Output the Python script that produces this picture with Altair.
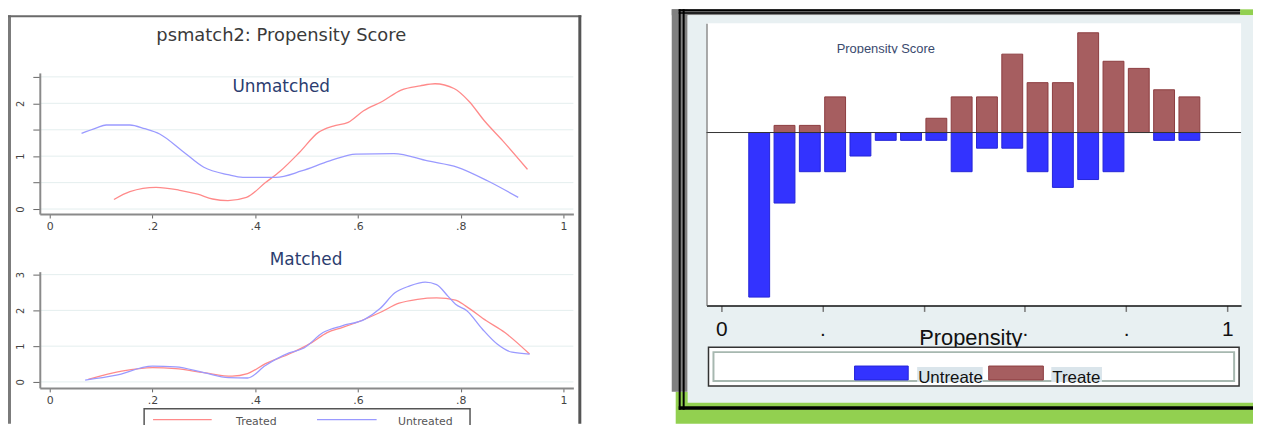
import altair as alt
import pandas as pd

# ---------------- data ----------------
# Left panel, "Unmatched" kernel densities
um_treat_x = [0.125, 0.156, 0.207, 0.251, 0.288, 0.317, 0.347, 0.383, 0.42, 0.449, 0.486, 0.523,
              0.552, 0.581, 0.611, 0.648, 0.684, 0.721, 0.75, 0.787, 0.816, 0.846, 0.882, 0.93]
um_treat_y = [0.18, 0.33, 0.41, 0.36, 0.28, 0.19, 0.16, 0.22, 0.50, 0.72, 1.07, 1.45,
              1.57, 1.64, 1.86, 2.04, 2.25, 2.33, 2.37, 2.28, 2.04, 1.67, 1.29, 0.75]
um_untr_x = [0.062, 0.09, 0.11, 0.156, 0.185, 0.214, 0.258, 0.30, 0.347, 0.376, 0.44, 0.49,
             0.545, 0.596, 0.67, 0.736, 0.794, 0.853, 0.912]
um_untr_y = [1.43, 1.53, 1.59, 1.59, 1.52, 1.42, 1.10, 0.79, 0.65, 0.60, 0.60, 0.72,
             0.91, 1.04, 1.05, 0.91, 0.79, 0.53, 0.22]
# Left panel, "Matched" kernel densities
m_treat_x = [0.075, 0.14, 0.20, 0.245, 0.30, 0.355, 0.385, 0.42, 0.466, 0.51, 0.54, 0.569,
             0.606, 0.643, 0.68, 0.716, 0.753, 0.79, 0.81, 0.85, 0.886, 0.934]
m_treat_y = [0.07, 0.30, 0.40, 0.37, 0.26, 0.16, 0.23, 0.51, 0.78, 1.10, 1.38, 1.52,
             1.71, 1.94, 2.20, 2.31, 2.35, 2.29, 2.12, 1.71, 1.38, 0.78]
m_untr_x = [0.069, 0.127, 0.20, 0.245, 0.30, 0.348, 0.385, 0.42, 0.466, 0.495, 0.532, 0.569,
            0.613, 0.643, 0.672, 0.70, 0.731, 0.753, 0.775, 0.79, 0.812, 0.842, 0.871, 0.90, 0.934]
m_untr_y = [0.05, 0.18, 0.44, 0.42, 0.26, 0.12, 0.11, 0.46, 0.81, 0.95, 1.38, 1.57,
            1.75, 2.05, 2.49, 2.68, 2.79, 2.72, 2.40, 2.17, 1.99, 1.48, 1.06, 0.83, 0.78]

# Right panel, mirrored histogram (bin midpoints and counts)
bin_mid = [0.075, 0.125, 0.175, 0.225, 0.275, 0.325, 0.375, 0.425, 0.475,
           0.525, 0.575, 0.625, 0.675, 0.725, 0.775, 0.825, 0.875, 0.925]
treated_n = [0, 1, 1, 5, 0, 0, 0, 2, 5, 5, 11, 7, 7, 14, 10, 9, 6, 5]
untreated_n = [21, 9, 5, 5, 3, 1, 1, 1, 5, 2, 2, 5, 7, 6, 5, 0, 1, 1]

ps_ticks = [0, 0.2, 0.4, 0.6, 0.8, 1]
top_ticks = [0, 0.5, 1, 1.5, 2, 2.5]
bot_ticks = [0, 1, 2, 3]

# ---------------- styling helpers ----------------
ONE = pd.DataFrame({"k": [0]})
LEFT_FONT = "DejaVu Sans"
RIGHT_FONT = "Liberation Sans"
RED_LINE = "#ff8a8a"
BLUE_LINE = "#9a9aff"


def rect(x1, x2, y1, y2, fill, stroke=None, sw=1):
    mk = {"fill": fill}
    if stroke is not None:
        mk["stroke"] = stroke
        mk["strokeWidth"] = sw
    return alt.Chart(ONE).mark_rect(**mk).encode(
        x=alt.value(x1), x2=alt.value(x2), y=alt.value(y1), y2=alt.value(y2))


def txt(x, y, s, font, size, color, align="center", baseline="middle"):
    return alt.Chart(ONE).mark_text(font=font, fontSize=size, color=color,
                                    align=align, baseline=baseline).encode(
        x=alt.value(x), y=alt.value(y), text=alt.value(s))


def hline(x1, x2, y, color, width):
    return alt.Chart(ONE).mark_rule(color=color, strokeWidth=width).encode(
        x=alt.value(x1), x2=alt.value(x2), y=alt.value(y))


def left_y_axis(values, offset):
    return alt.Axis(orient="left", offset=offset, values=values,
                    labelExpr="datum.value % 1 == 0 ? format(datum.value, 'd') : ''",
                    labelAngle=270, labelAlign="center", labelBaseline="bottom",
                    labelPadding=7, labelFont=LEFT_FONT, labelFontSize=10, labelColor="#444",
                    tickSize=7, tickColor="#666", tickWidth=1,
                    domainColor="#8a8a8a", domainWidth=2, grid=False,
                    labelOverlap=False, zindex=1)


def left_x_axis(offset):
    return alt.Axis(orient="bottom", offset=offset, values=ps_ticks,
                    labelExpr="datum.value == 0 ? '0' : datum.value == 1 ? '1' : replace(format(datum.value, '.1f'), '0.', '.')",
                    labelPadding=3, labelFont=LEFT_FONT, labelFontSize=11, labelColor="#444",
                    tickSize=4, tickColor="#666", tickWidth=1,
                    domainColor="#8a8a8a", domainWidth=2, grid=False,
                    labelFlush=False, labelOverlap=False, zindex=1)


def density_panel(tx, ty, ux, uy, ticks, sx, sy, ax_x, ax_y, grid_x2):
    grid = alt.Chart(pd.DataFrame({"dens": ticks})).mark_rule(
        color="#e4eeee", strokeWidth=1).encode(
        y=alt.Y("dens:Q", scale=sy, axis=ax_y, title=""),
        x=alt.value(33), x2=alt.value(grid_x2))
    lt = alt.Chart(pd.DataFrame({"ps": tx, "dens": ty})).mark_line(
        color=RED_LINE, strokeWidth=1.3, interpolate="monotone").encode(
        x=alt.X("ps:Q", scale=sx, axis=ax_x, title=""),
        y=alt.Y("dens:Q", scale=sy, axis=ax_y, title=""))
    lu = alt.Chart(pd.DataFrame({"ps": ux, "dens": uy})).mark_line(
        color=BLUE_LINE, strokeWidth=1.3, interpolate="monotone").encode(
        x=alt.X("ps:Q", scale=sx, axis=ax_x, title=""),
        y=alt.Y("dens:Q", scale=sy, axis=ax_y, title=""))
    return [grid, lt, lu]


# ---------------- scales (pixel ranges inside one 1253x417 view) ----------------
sx_left_top = alt.Scale(domain=[-0.0193, 1.0193], range=[32, 569], nice=False, zero=False)
sx_left_bot = alt.Scale(domain=[-0.0193, 1.0193], range=[32, 569], nice=False, zero=False)
sy_top = alt.Scale(domain=[-0.094, 2.575], range=[206, 64], nice=False, zero=False)
sy_bot = alt.Scale(domain=[-0.167, 3.083], range=[381, 264], nice=False, zero=False)
sx_right = alt.Scale(domain=[-0.0193, 1.0173], range=[703, 1241], nice=False, zero=False)
sy_right = alt.Scale(domain=[-0.2758, 0.1743], range=[298, 14], nice=False, zero=False)

H = 417

# ---------------- background decorations ----------------
back = [
    # left panel frame
    rect(0, 3, 6, H, "#7a7a7a"),
    rect(0, 577, 6, 8, "#6a6a6a"),
    rect(574, 577, 6, H, "#555555"),
    # right panel frame / background
    rect(672, 1253, 385, H, "#92d050"),
    rect(668, 684, 0, 385, "#808080"),
    rect(668, 1240, 0, 6, "#808080"),
    rect(1240, 1253, 0, 6, "#92d050"),
    rect(684, 1253, 6, 396, "#e8f0f2"),
    rect(675, 677, 0, 403, "#000000"),
    rect(679, 681, 0, 403, "#000000"),
    rect(675, 1240, 0, 2, "#000000"),
    rect(675, 1240, 3, 4.5, "#000000"),
    rect(675, 1253, 399.5, 403, "#000000"),
    rect(703, 1241, 14, 298, "#ffffff"),
]

# ---------------- left panel ----------------
top_layer = alt.layer(
    *density_panel(um_treat_x, um_treat_y, um_untr_x, um_untr_y, top_ticks,
                   sx_left_top, sy_top, left_x_axis(206 - H), left_y_axis(top_ticks, -32), 569),
    txt(275, 78, "Unmatched", LEFT_FONT, 17, "#2b3d6f"),
)
bot_layer = alt.layer(
    *density_panel(m_treat_x, m_treat_y, m_untr_x, m_untr_y, bot_ticks,
                   sx_left_bot, sy_bot, left_x_axis(381 - H), left_y_axis(bot_ticks, -32), 569),
    txt(300, 252, "Matched", LEFT_FONT, 17, "#2b3d6f"),
)
left_deco = [
    txt(275, 27, "psmatch2: Propensity Score", LEFT_FONT, 18, "#3a3a3a"),
    rect(137, 465, 402, 425, "#ffffff", stroke="#555555", sw=1.5),
    hline(146, 205, 413, RED_LINE, 1.3),
    txt(250, 409, "Treated", LEFT_FONT, 11, "#555555", baseline="top"),
    hline(311, 371, 413, BLUE_LINE, 1.3),
    txt(420, 409, "Untreated", LEFT_FONT, 11, "#555555", baseline="top"),
]

# ---------------- right panel ----------------
hist_df = pd.DataFrame({
    "ps": bin_mid + bin_mid,
    "group": ["Treated"] * len(bin_mid) + ["Untreated"] * len(bin_mid),
    "n": treated_n + untreated_n,
})

ax_rx = alt.Axis(orient="bottom", offset=298 - H, values=ps_ticks,
                 labelExpr="datum.value == 0 ? '0' : datum.value == 1 ? '1' : '.'",
                 labelPadding=7, labelFont=RIGHT_FONT, labelFontSize=21, labelColor="#111",
                 tickSize=6, tickColor="#777", tickWidth=1.5,
                 domainColor="#111", domainWidth=1.5, grid=False,
                 labelFlush=False, labelOverlap=False, zindex=1)
ax_ry = alt.Axis(orient="left", offset=-703, ticks=False, labels=False,
                 domainColor="#555", domainWidth=1, grid=False, zindex=1)

hist_base = alt.Chart(hist_df).transform_joinaggregate(
    total="sum(n)", groupby=["group"]
).transform_calculate(
    share="(datum.group == 'Treated' ? 1 : -1) * datum.n / datum.total"
).transform_filter("datum.n > 0")

red_bars = hist_base.transform_filter("datum.group == 'Treated'").mark_bar(
    size=21, fill="#a65e60", stroke="#8c3c40", strokeWidth=1).encode(
    x=alt.X("ps:Q", scale=sx_right, axis=ax_rx, title=""),
    y=alt.Y("share:Q", scale=sy_right, axis=ax_ry, title=""),
    y2=alt.datum(0))
blue_bars = hist_base.transform_filter("datum.group == 'Untreated'").mark_bar(
    size=21, fill="#3333ff", stroke="#2424d8", strokeWidth=1).encode(
    x=alt.X("ps:Q", scale=sx_right, axis=ax_rx, title=""),
    y=alt.Y("share:Q", scale=sy_right, axis=ax_ry, title=""),
    y2=alt.datum(0))
zero_rule = alt.Chart(ONE).mark_rule(color="#333333", strokeWidth=1).encode(
    y=alt.datum(0, scale=sy_right, axis=ax_ry, title=""),
    x=alt.value(703), x2=alt.value(1241))

right_layer = alt.layer(
    red_bars, blue_bars, zero_rule,
    txt(834, 43.5, "Propensity Score", RIGHT_FONT, 13, "#3a4a6e", align="left", baseline="alphabetic"),
    rect(830, 950, 44.5, 50, "#ffffff"),
    txt(969, 338, "Propensity", RIGHT_FONT, 22, "#111111", baseline="alphabetic"),
)
right_legend = [
    rect(705, 1239, 340, 379, "#ffffff", stroke="#333333", sw=1.5),
    rect(710, 1234, 345, 374, "#ffffff", stroke="#a7b8b0", sw=2),
    rect(852, 906, 359, 373, "#3333ff", stroke="#2424d8", sw=1),
    rect(915, 981, 360, 375, "#dae5eb"),
    txt(916, 376, "Untreate", RIGHT_FONT, 17, "#111111", align="left", baseline="alphabetic"),
    rect(987, 1042, 359, 373, "#a65e60", stroke="#8c3c40", sw=1),
    rect(1050, 1101, 360, 375, "#dae5eb"),
    txt(1051, 376, "Treate", RIGHT_FONT, 17, "#111111", align="left", baseline="alphabetic"),
]

chart = alt.layer(
    *back, top_layer, bot_layer, *left_deco, right_layer, *right_legend
).resolve_scale(
    x="independent", y="independent"
).properties(
    width=1253, height=H, padding=0,
    autosize=alt.AutoSizeParams(type="none"),
).configure_view(stroke="transparent")

chart.save("out.html", embed_options={"renderer": "svg", "actions": False})
